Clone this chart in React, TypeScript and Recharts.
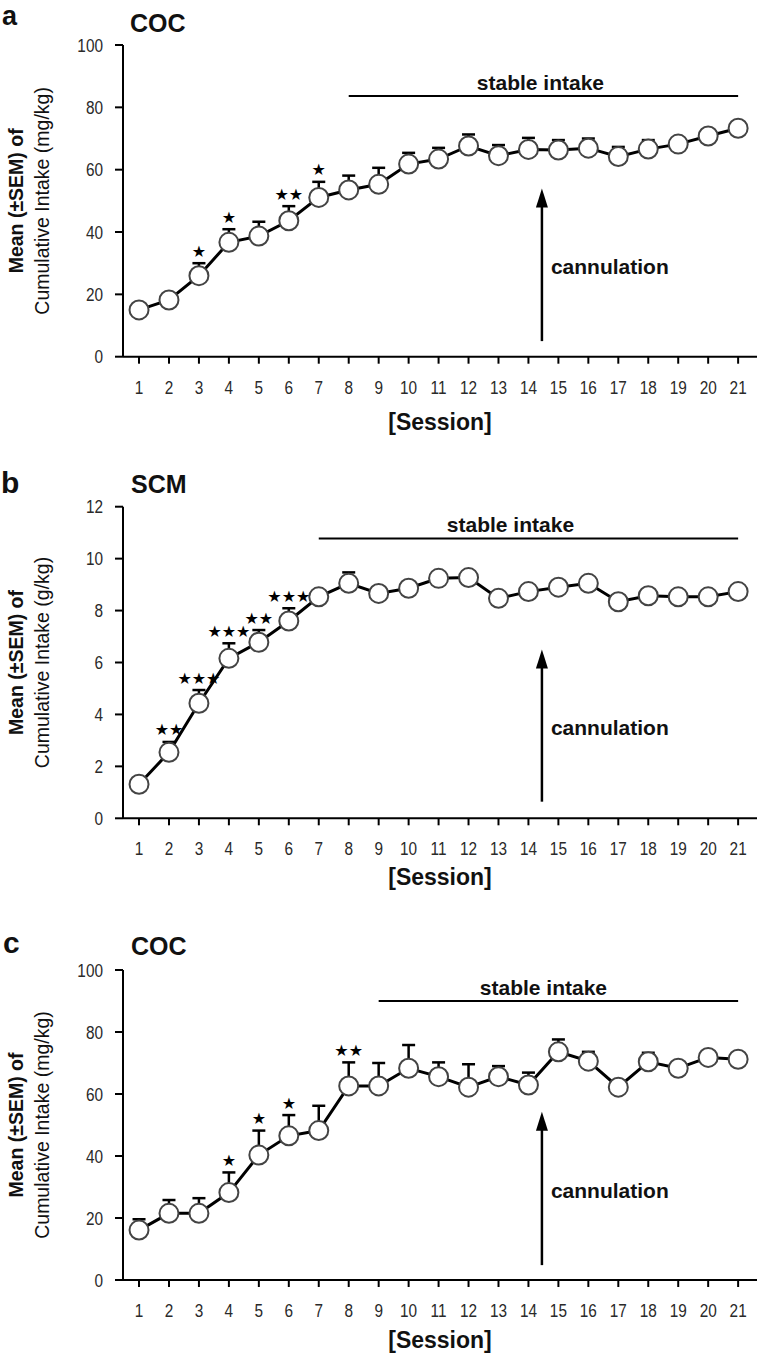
import { LineChart, Line, XAxis, YAxis, ErrorBar, LabelList, ReferenceLine, ReferenceDot } from 'recharts';

const FONT = '"Liberation Sans", Arial, Helvetica, sans-serif';

const sessions = [1, 2, 3, 4, 5, 6, 7, 8, 9, 10, 11, 12, 13, 14, 15, 16, 17, 18, 19, 20, 21];

// panel a - cocaine
const cocAMean = [15, 18.2, 26, 36.7, 38.7, 43.6, 51.1, 53.5, 55.3, 61.8, 63.4, 67.6, 64.5, 66.5, 66.3, 66.9, 64.2, 66.6, 68.2, 70.8, 73.3];
const cocASem = [1.5, 1.5, 4.0, 4.2, 4.6, 4.7, 5.0, 4.6, 5.3, 3.6, 3.6, 3.7, 3.4, 3.7, 3.2, 3.1, 3.1, 2.9, 2.0, 2.0, 1.5];
const cocASig = ['', '', '*', '*', '', '**', '*', '', '', '', '', '', '', '', '', '', '', '', '', '', ''];

// panel b - sucrose / condensed milk
const scmMean = [1.31, 2.54, 4.43, 6.16, 6.78, 7.6, 8.53, 9.05, 8.66, 8.86, 9.24, 9.27, 8.47, 8.73, 8.9, 9.05, 8.34, 8.57, 8.53, 8.53, 8.73];
const scmSem = [0.2, 0.4, 0.51, 0.58, 0.47, 0.49, 0.2, 0.42, 0.2, 0.2, 0.2, 0.2, 0.2, 0.2, 0.2, 0.2, 0.2, 0.2, 0.2, 0.2, 0.2];
const scmSig = ['', '**', '***', '***', '**', '***', '', '', '', '', '', '', '', '', '', '', '', '', '', '', ''];

// panel c - cocaine
const cocCMean = [16.1, 21.5, 21.5, 28.2, 40.3, 46.5, 48.2, 62.6, 62.6, 68.3, 65.6, 62.2, 65.6, 62.9, 73.6, 70.6, 62.2, 70.4, 68.3, 71.8, 71.2];
const cocCSem = [3.5, 4.3, 4.9, 6.5, 7.9, 6.7, 8.0, 7.6, 7.4, 7.5, 4.6, 7.4, 3.4, 4.0, 4.0, 3.0, 1.5, 2.9, 1.5, 1.5, 1.5];
const cocCSig = ['', '', '', '*', '*', '*', '', '**', '', '', '', '', '', '', '', '', '', '', '', '', ''];

const X_DOMAIN: [number, number] = [0.465, 21.63];

interface PanelDef {
  top: number;
  height: number;
  plotTop: number;
  plotBottom: number;
  mean: number[];
  sem: number[];
  sig: string[];
  yMax: number;
  yTicks: number[];
  unit: string;
  stable: { from: number; to: number; level: number; textAt: number };
  arrow: { at: number; from: number; to: number; textLevel: number };
  sessionDy: number;
}

const panels: PanelDef[] = [
  {
    top: 0, height: 450, plotTop: 45, plotBottom: 356.7,
    mean: cocAMean, sem: cocASem, sig: cocASig,
    yMax: 100, yTicks: [0, 20, 40, 60, 80, 100], unit: '(mg/kg)',
    stable: { from: 8, to: 21, level: 83.6, textAt: 14.4 },
    arrow: { at: 14.45, from: 5, to: 54, textLevel: 29 },
    sessionDy: 65,
  },
  {
    top: 450, height: 450, plotTop: 56.7, plotBottom: 368.3,
    mean: scmMean, sem: scmSem, sig: scmSig,
    yMax: 12, yTicks: [0, 2, 4, 6, 8, 10, 12], unit: '(g/kg)',
    stable: { from: 7, to: 21, level: 10.78, textAt: 13.4 },
    arrow: { at: 14.45, from: 0.64, to: 6.5, textLevel: 3.5 },
    sessionDy: 58.5,
  },
  {
    top: 900, height: 464, plotTop: 70, plotBottom: 380,
    mean: cocCMean, sem: cocCSem, sig: cocCSig,
    yMax: 100, yTicks: [0, 20, 40, 60, 80, 100], unit: '(mg/kg)',
    stable: { from: 9, to: 21, level: 90, textAt: 14.5 },
    arrow: { at: 14.45, from: 4.8, to: 54.3, textLevel: 29 },
    sessionDy: 60,
  },
];

// tick numbers in the figure are a narrow grotesque, so squeeze them
function NarrowTick(props: any) {
  const { x, y, payload, textAnchor } = props;
  const dy = textAnchor === 'middle' ? '0.71em' : '0.355em';
  return (
    <text
      x={0}
      y={0}
      dy={dy}
      textAnchor={textAnchor}
      transform={`translate(${x},${y}) scale(0.83,1)`}
      fontFamily={FONT}
      fontSize={18.5}
      fill="#2a2a2a"
    >
      {payload.value}
    </text>
  );
}

function Arrow(props: any) {
  const { x1, y1, x2, y2 } = props;
  const head = 19;
  return (
    <g>
      <line x1={x1} y1={y1} x2={x2} y2={y2 + head - 2} stroke="#000" strokeWidth={2.5} />
      <polygon points={`${x2},${y2} ${x2 - 6},${y2 + head} ${x2 + 6},${y2 + head}`} fill="#000" />
    </g>
  );
}

function Stars(props: any) {
  const vb = props.viewBox ?? props;
  const x = props.x ?? vb.x;
  const y = props.y ?? vb.y;
  const v = props.value as string;
  if (!v) return null;
  return (
    <text x={x} y={y - 12} textAnchor="middle" dominantBaseline="central"
      fontFamily='"DejaVu Sans", sans-serif' fontSize={16} fill="#000">
      {'\u2605'.repeat(v.length)}
    </text>
  );
}

function Panel({ p }: { p: PanelDef }) {
  const rows = sessions.map((s, i) => ({
    session: s,
    mean: p.mean[i],
    err: [0, p.sem[i]],
    cap: p.mean[i] + p.sem[i],
    sig: p.sig[i],
  }));
  const xAxisH = 60;
  return (
    <div style={{ position: 'absolute', left: 0, top: p.top }}>
      <LineChart
        width={760}
        height={p.height}
        data={rows}
        margin={{ top: p.plotTop, right: 3, bottom: p.height - p.plotBottom - xAxisH, left: 0 }}
      >
        <XAxis
          type="number"
          dataKey="session"
          domain={X_DOMAIN}
          ticks={sessions}
          interval={0}
          allowDataOverflow
          height={xAxisH}
          tickSize={7}
          tickMargin={17}
          axisLine={{ stroke: '#000', strokeWidth: 2 }}
          tickLine={{ stroke: '#000', strokeWidth: 2 }}
          tick={(tp: any) => <NarrowTick {...tp} />}
          label={{
            content: (lp: any) => {
              const vb = lp.viewBox;
              return (
                <text x={vb.x + vb.width / 2} y={vb.y + p.sessionDy} textAnchor="middle" dominantBaseline="central"
                  fontFamily={FONT} fontWeight="bold" fontSize={23} fill="#111">
                  [Session]
                </text>
              );
            },
          }}
        />
        <YAxis
          type="number"
          domain={[0, p.yMax]}
          ticks={p.yTicks}
          interval={0}
          width={123}
          tickSize={8}
          tickMargin={12}
          axisLine={{ stroke: '#000', strokeWidth: 2 }}
          tickLine={{ stroke: '#000', strokeWidth: 2 }}
          tick={(tp: any) => <NarrowTick {...tp} />}
          label={{
            content: (lp: any) => {
              const vb = lp.viewBox;
              const cy = vb.y + vb.height / 2;
              return (
                <g>
                  <text x={16} y={cy} transform={`rotate(-90, 16, ${cy})`} textAnchor="middle" dominantBaseline="central"
                    fontFamily={FONT} fontWeight="bold" fontSize={19.5} fill="#111">
                    Mean (±SEM) of
                  </text>
                  <text x={42} y={cy} transform={`rotate(-90, 42, ${cy})`} textAnchor="middle" dominantBaseline="central"
                    fontFamily={FONT} fontSize={19.5} fill="#111">
                    {`Cumulative Intake ${p.unit}`}
                  </text>
                </g>
              );
            },
          }}
        />
        <ReferenceLine
          segment={[{ x: p.stable.from, y: p.stable.level }, { x: p.stable.to, y: p.stable.level }]}
          stroke="#000"
          strokeWidth={2}
        />
        <ReferenceDot
          x={p.stable.textAt}
          y={p.stable.level}
          r={0}
          shape={(sp: any) => (
            <text x={sp.cx} y={sp.cy - 6} textAnchor="middle" fontFamily={FONT} fontWeight="bold" fontSize={21} fill="#111">
              stable intake
            </text>
          )}
        />
        <ReferenceLine
          segment={[{ x: p.arrow.at, y: p.arrow.from }, { x: p.arrow.at, y: p.arrow.to }]}
          shape={(sp: any) => <Arrow {...sp} />}
        />
        <ReferenceDot
          x={p.arrow.at}
          y={p.arrow.textLevel}
          r={0}
          shape={(sp: any) => (
            <text x={sp.cx + 9} y={sp.cy} dominantBaseline="central" fontFamily={FONT} fontWeight="bold" fontSize={21} fill="#111">
              cannulation
            </text>
          )}
        />
        <Line
          dataKey="mean"
          stroke="#000"
          strokeWidth={3}
          isAnimationActive={false}
          dot={{ r: 9.5, fill: '#fff', stroke: '#444', strokeWidth: 2 }}
          activeDot={false}
        >
          <ErrorBar dataKey="err" direction="y" width={6.5} strokeWidth={2.5} stroke="#000" isAnimationActive={false} />
        </Line>
        <Line dataKey="cap" stroke="none" dot={false} activeDot={false} isAnimationActive={false}>
          <LabelList dataKey="sig" content={(lp: any) => <Stars {...lp} />} />
        </Line>
      </LineChart>
    </div>
  );
}

export default function App() {
  return (
    <div style={{ position: 'absolute', left: 0, top: 0, width: 760, height: 1364, background: '#fff', overflow: 'hidden' }}>
      {panels.map((p, i) => (
        <Panel key={i} p={p} />
      ))}
      <svg width={760} height={1364} style={{ position: 'absolute', left: 0, top: 0, pointerEvents: 'none' }}>
        <g fontFamily={FONT} fontWeight="bold" fill="#111">
          <text x={2} y={24.5} fontSize={27}>a</text>
          <text x={130} y={31.5} fontSize={25}>COC</text>
          <text x={1} y={493} fontSize={30}>b</text>
          <text x={131} y={492.7} fontSize={25}>SCM</text>
          <text x={3} y={953} fontSize={30}>c</text>
          <text x={131} y={955} fontSize={25}>COC</text>
        </g>
      </svg>
    </div>
  );
}
